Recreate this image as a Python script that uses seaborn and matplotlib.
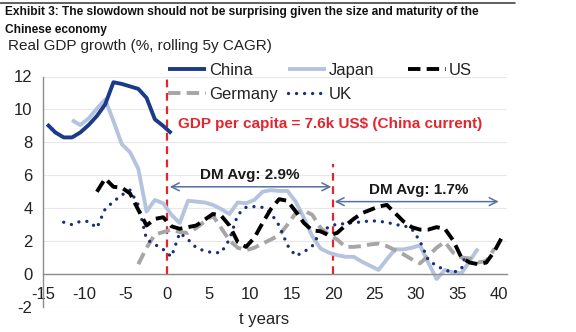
import matplotlib
matplotlib.use("Agg")
import matplotlib.pyplot as plt
from matplotlib.lines import Line2D
import numpy as np
import pandas as pd
import seaborn as sns

# ---------------- data ----------------
title_line1 = "Exhibit 3: The slowdown should not be surprising given the size and maturity of the"
title_line2 = "Chinese economy"
subtitle = "Real GDP growth (%, rolling 5y CAGR)"
x_label = "t years"
x_ticks = [-15, -10, -5, 0, 5, 10, 15, 20, 25, 30, 35, 40]
y_ticks = [-2, 0, 2, 4, 6, 8, 10, 12]

china_t = [-14.5, -13.5, -12.5, -11.5, -10.5, -9.5, -8.5, -7.5, -6.5, -5.5, -4.5,
           -3.5, -2.5, -1.5, -0.5, 0.5]
china_v = [9.1, 8.6, 8.3, 8.3, 8.6, 9.05, 9.6, 10.3, 11.65, 11.55, 11.4,
           11.25, 10.7, 9.4, 9.0, 8.55]

japan_t = [-11.5, -10.5, -9.5, -8.5, -7.5, -6.5, -5.5, -4.5, -3.5, -2.5, -1.5, -0.5,
           0.5, 1.5, 2.5, 3.5, 4.5, 5.5, 6.5, 7.5, 8.5, 9.5, 10.5, 11.5, 12.5, 13.5,
           14.5, 15.5, 16.5, 17.5, 18.5, 19.5, 20.5, 21.5, 22.5, 23.5, 24.5, 25.5,
           26.5, 27.5, 28.5, 29.5, 30.5, 31.5, 32.5, 33.5, 34.5, 35.5, 36.5, 37.5]
japan_v = [9.35, 9.05, 9.45, 10.05, 10.6, 9.3, 7.9, 7.4, 6.4, 3.8, 4.5, 4.3,
           3.6, 3.1, 4.45, 4.4, 4.35, 4.2, 3.95, 3.65, 4.35, 4.3, 4.5, 5.0, 5.1, 5.05,
           5.05, 4.4, 3.4, 2.3, 1.55, 1.3, 1.15, 1.05, 1.05, 0.75, 0.5, 0.25,
           0.9, 1.5, 1.5, 1.6, 1.75, 0.7, -0.3, 0.25, 0.1, 0.05, 0.8, 1.55]

us_t = [-8.5, -7.5, -6.5, -5.5, -4.5, -3.5, -2.5, -1.5, -0.5, 0.5, 1.5, 2.5, 3.5,
        4.5, 5.5, 6.5, 7.5, 8.5, 9.5, 10.5, 11.5, 12.5, 13.5, 14.5, 15.5, 16.5,
        17.5, 18.5, 19.5, 20.5, 21.5, 22.5, 23.5, 24.5, 25.5, 26.5, 27.5, 28.5,
        29.5, 30.5, 31.5, 32.5, 33.5, 34.5, 35.5, 36.5, 37.5, 38.5, 39.5, 40.3]
us_v = [5.0, 5.8, 5.3, 5.25, 4.9, 3.9, 2.95, 3.35, 3.45, 2.9, 2.75, 2.85, 2.95,
        3.3, 3.65, 3.55, 2.95, 1.95, 1.65, 2.2, 3.1, 3.95, 4.55, 4.45, 3.8, 3.1,
        2.65, 2.6, 2.35, 2.5, 2.95, 3.35, 3.7, 3.9, 4.1, 4.2, 3.7, 3.2,
        2.85, 2.7, 2.7, 2.85, 2.75, 2.05, 1.0, 0.7, 0.6, 0.7, 1.4, 2.15]

germany_t = [-3.5, -2.5, -1.5, -0.5, 0.5, 1.5, 2.5, 3.5, 4.5, 5.5, 6.5, 7.5, 8.5,
             9.5, 10.5, 11.5, 12.5, 13.5, 14.5, 15.5, 16.5, 17.5, 18.5, 19.5, 20.5,
             21.5, 22.5, 23.5, 24.5, 25.5, 26.5, 27.5, 28.5, 29.5, 30.5, 31.5, 32.5,
             33.5, 34.5, 35.5, 36.5, 37.5, 38.5, 39.5]
germany_v = [0.6, 1.6, 2.4, 2.55, 2.7, 2.55, 2.5, 2.8, 3.2, 3.55, 2.8, 2.05, 1.6,
             1.45, 1.6, 1.85, 2.1, 2.35, 3.0, 3.7, 3.85, 3.6, 2.8, 2.4, 2.1,
             1.65, 1.65, 1.7, 1.8, 1.85, 1.7, 1.45, 1.2, 0.9, 0.65, 1.1, 1.6,
             1.95, 1.3, 1.0, 0.95, 0.7, 0.8, 1.55]

uk_t = [-12.5, -11.5, -10.5, -9.5, -8.5, -7.5, -6.5, -5.5, -4.5, -3.5, -2.5, -1.5,
        -0.5, 0.5, 1.5, 2.5, 3.5, 4.5, 5.5, 6.5, 7.5, 8.5, 9.5, 10.5, 11.5, 12.5,
        13.5, 14.5, 15.5, 16.5, 17.5, 18.5, 19.5, 20.5, 21.5, 22.5, 23.5, 24.5,
        25.5, 26.5, 27.5, 28.5, 29.5, 30.5, 31.5, 32.5, 33.5, 34.5, 35.5, 36.0]
uk_v = [3.15, 3.0, 3.2, 3.2, 2.8, 3.95, 4.4, 4.8, 5.1, 4.2, 2.1, 1.8,
        1.5, 1.05, 2.5, 2.1, 1.6, 1.4, 1.3, 1.3, 2.1, 3.6, 4.05, 4.1, 4.05, 3.7,
        2.95, 1.75, 1.1, 1.35, 1.7, 2.6, 2.85, 3.05, 3.05, 3.15, 3.15, 3.25,
        3.2, 3.15, 3.0, 2.95, 2.75, 2.0, 0.85, 0.5, 0.25, 0.1, 0.3, 1.2]

threshold_years = [0, 20]
threshold_tops = [12, 6.7]
gdp_note = "GDP per capita = 7.6k US$ (China current)"
dm_labels = ["DM Avg: 2.9%", "DM Avg: 1.7%"]
dm_spans = [(0.3, 19.8), (20.2, 40.0)]
dm_arrow_y = [5.3, 4.4]
dm_label_pos = [(10.0, 6.0), (30.4, 5.1)]

# ---------------- style ----------------
sns.set_theme(style="white")
plt.rcParams["font.family"] = ["Liberation Sans", "DejaVu Sans"]

NAVY = "#1c3a8a"
UK_NAVY = "#1a2f78"
JAPAN = "#b5c4de"
GERMANY = "#a6a6a6"
RED = "#e3262e"
ARROW = "#5670a0"

frames = []
for name, t, v in [("China", china_t, china_v), ("Japan", japan_t, japan_v),
                   ("US", us_t, us_v), ("Germany", germany_t, germany_v),
                   ("UK", uk_t, uk_v)]:
    frames.append(pd.DataFrame({"t": t, "v": v, "country": name}))
df = pd.concat(frames, ignore_index=True)

styles = {
    "Japan": dict(color=JAPAN, lw=2.8, linestyle="-", solid_capstyle="butt"),
    "Germany": dict(color=GERMANY, lw=2.8, linestyle=(0, (3.2, 1.6)), dash_capstyle="butt"),
    "UK": dict(color=UK_NAVY, lw=2.4, linestyle=(0, (0.01, 2.4)), dash_capstyle="round"),
    "US": dict(color="black", lw=2.8, linestyle=(0, (3.2, 1.6)), dash_capstyle="butt"),
    "China": dict(color=NAVY, lw=2.8, linestyle="-", solid_capstyle="butt"),
}

fig = plt.figure(figsize=(5.76, 3.32), dpi=100)
ax = fig.add_axes([43 / 576, 1 - 307 / 332, (507 - 43) / 576, (307 - 76.5) / 332])

handles = {}
for name in ["Japan", "Germany", "UK", "US", "China"]:
    sub = df[df["country"] == name]
    sns.lineplot(data=sub, x="t", y="v", ax=ax, label=name, legend=False,
                 estimator=None, sort=True, **styles[name])
    handles[name] = ax.lines[-1]

ax.set_xlim(-15, 41)
ax.set_ylim(-2, 12)
ax.set_xticks(x_ticks)
ax.set_yticks(y_ticks)
ax.set_xticklabels([str(v) for v in x_ticks])
ax.set_yticklabels([str(v) for v in y_ticks])
ax.grid(axis="y", color="#e8e8e8", lw=0.8)
ax.grid(axis="x", visible=False)
ax.set_axisbelow(True)
for s in ["top", "right"]:
    ax.spines[s].set_visible(False)
ax.spines["bottom"].set_position(("data", 0))
for s in ["left", "bottom"]:
    ax.spines[s].set_color("#8c8c8c")
    ax.spines[s].set_linewidth(1.0)
ax.tick_params(axis="both", which="both", labelsize=12, colors="#222222",
               length=3.5, width=1.0, direction="out")
ax.tick_params(axis="x", pad=6, color="#8c8c8c")
ax.tick_params(axis="y", pad=4, color="#8c8c8c")
ax.set_xlabel(x_label, fontsize=12, color="#222222")
ax.xaxis.set_label_coords(0.476, -0.022)
ax.xaxis.label.set_va("top")
ax.set_ylabel("")

# red threshold lines
ax.vlines(threshold_years, [0, 0], threshold_tops, colors=RED, lw=1.6,
          linestyles=[(0, (3.5, 2.5))], zorder=1.5)

ax.text(1.33, 9.12, gdp_note, color=RED, fontsize=11, fontweight="bold",
        ha="left", va="center")

for lab, (x0, x1), ya, (tx, ty) in zip(dm_labels, dm_spans, dm_arrow_y, dm_label_pos):
    ax.annotate("", xy=(x0, ya), xytext=(x1, ya),
                arrowprops=dict(arrowstyle="<->", color=ARROW, lw=1.1,
                                mutation_scale=14, shrinkA=0, shrinkB=0))
    ax.text(tx, ty, lab, fontsize=11, fontweight="bold", color="#1a1a1a",
            ha="center", va="center")

# legends (3 columns placed individually)
leg_cols = [["China", "Germany"], ["Japan", "UK"], ["US"]]
leg_x = [168 / 576, 288 / 576, 408 / 576]
leg_top = 1 - 63 / 332
legs = []
for names, lx in zip(leg_cols, leg_x):
    lg = ax.legend(handles=[handles[n] for n in names], labels=names,
                   loc="upper left", bbox_to_anchor=(lx, leg_top),
                   bbox_transform=fig.transFigure, frameon=False,
                   borderpad=0, borderaxespad=0, handlelength=2.25,
                   handletextpad=0.2, labelspacing=0.55, fontsize=12)
    for txt in lg.get_texts():
        txt.set_color("#222222")
    legs.append(lg)
for lg in legs[:-1]:
    ax.add_artist(lg)

# titles
fig.add_artist(Line2D([0, 515 / 576], [1 - 2.5 / 332, 1 - 2.5 / 332],
                      transform=fig.transFigure, color="#444444", lw=1.2))
fig.text(5 / 576, 1 - 5.5 / 332, title_line1, fontsize=8.6, fontweight="bold",
         ha="left", va="top", color="#111111",
         family=["Liberation Sans Narrow", "Liberation Sans", "DejaVu Sans"])
fig.text(5 / 576, 1 - 23.5 / 332, title_line2, fontsize=8.6, fontweight="bold",
         ha="left", va="top", color="#111111",
         family=["Liberation Sans Narrow", "Liberation Sans", "DejaVu Sans"])
fig.text(8 / 576, 1 - 46 / 332, subtitle, fontsize=11, ha="left", va="center",
         color="#222222")

fig.savefig("out.png", dpi=100, facecolor="white")
